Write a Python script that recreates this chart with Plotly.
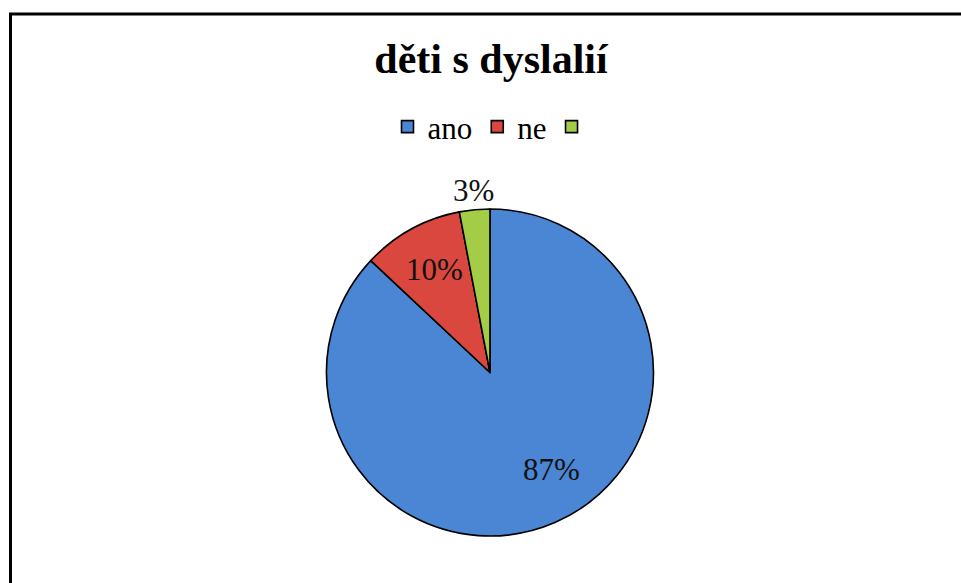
import math
import plotly.graph_objects as go

# Data
labels = ["ano", "ne", " "]
values = [87, 10, 3]
colors = ["#4A86D4", "#D9473F", "#A3CC47"]

W, H = 961, 583
SERIF = "Times New Roman, Liberation Serif, DejaVu Serif, serif"

# pie placement (paper fractions; margins are zero so paper == page)
dom_x = [0.3397, 0.6800]
dom_y = [0.0806, 0.6415]

fig = go.Figure()
fig.add_trace(go.Pie(
    labels=labels,
    values=values,
    sort=False,
    direction="clockwise",
    rotation=0,
    marker=dict(colors=colors, line=dict(color="#000000", width=1.6)),
    textinfo="none",
    hoverinfo="label+percent",
    domain=dict(x=dom_x, y=dom_y),
    showlegend=True,
))

# percentage labels, positioned along each slice's middle angle
cx = (dom_x[0] + dom_x[1]) / 2 * W
cy = (1 - (dom_y[0] + dom_y[1]) / 2) * H
R = (dom_x[1] - dom_x[0]) * W / 2
total = sum(values)
radial = [0.70, 0.72, 1.12]
shift = [-8.5, 0.0, 0.0]
annotations = []
cum = 0
for v, rf, sh in zip(values, radial, shift):
    mid = (cum + v / 2) / total * 360 + sh
    cum += v
    a = math.radians(mid)
    px = cx + rf * R * math.sin(a)
    py = cy - rf * R * math.cos(a)
    annotations.append(dict(
        x=px / W + 1 / W, y=1 - py / H, xref="paper", yref="paper",
        text=f"{round(v / total * 100)}%", showarrow=False,
        xanchor="center", yanchor="middle",
        font=dict(family=SERIF, size=31, color="#111111"),
    ))

fig.update_layout(
    width=W, height=H,
    margin=dict(l=0, r=0, t=0, b=0),
    paper_bgcolor="white",
    plot_bgcolor="white",
    title=dict(
        text="<b>děti s dyslalií</b>",
        x=491 / W, xanchor="center", xref="paper",
        y=1 - 58 / H, yanchor="middle", yref="paper",
        font=dict(family=SERIF, size=42, color="#000000"),
    ),
    legend=dict(
        orientation="h",
        x=496 / W, xanchor="center",
        y=1 - 127 / H, yanchor="middle",
        font=dict(family=SERIF, size=31, color="#000000"),
        itemwidth=30,
        bgcolor="rgba(0,0,0,0)",
    ),
    annotations=annotations,
    shapes=[dict(
        type="rect", xref="paper", yref="paper",
        x0=10.5 / W, x1=1.05, y0=-0.05, y1=1 - 14 / H,
        line=dict(color="#000000", width=3),
        fillcolor="rgba(0,0,0,0)",
    )],
)

fig.write_html("out.html")
